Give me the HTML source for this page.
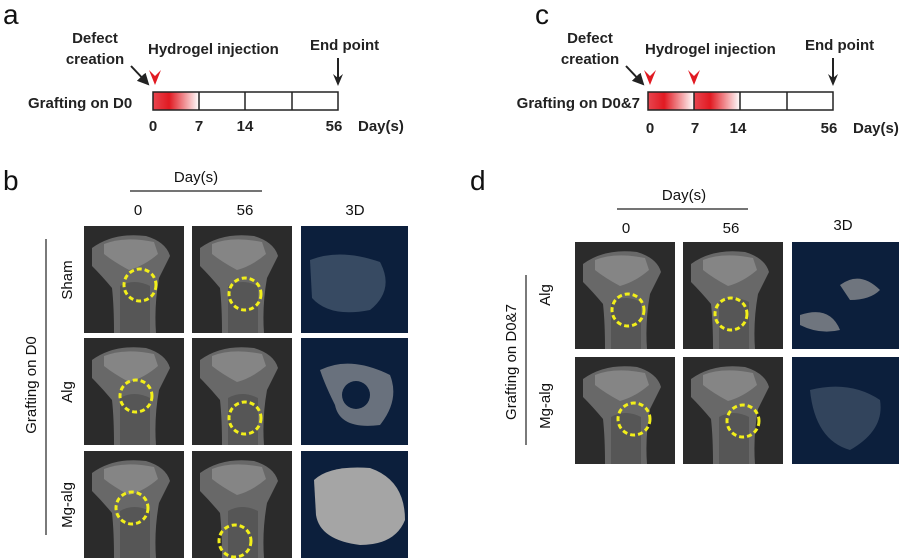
<!DOCTYPE html>
<html><head><meta charset="utf-8"><style>
html,body{margin:0;padding:0;background:#fff;}
svg{display:block;font-family:"Liberation Sans",Arial,sans-serif;}
.b{font-weight:bold;font-size:15px;fill:#222;}
.n{font-size:15px;fill:#111;}
</style></head><body>
<svg width="900" height="559" viewBox="0 0 900 559" xmlns="http://www.w3.org/2000/svg">
<defs>
<linearGradient id="rg" x1="0" x2="1" y1="0" y2="0">
<stop offset="0" stop-color="#e8454f"/><stop offset="0.35" stop-color="#e11a22"/><stop offset="1" stop-color="#fff"/>
</linearGradient>
<marker id="ah" markerWidth="6" markerHeight="6" refX="5" refY="3" orient="auto"><path d="M0,0 L6,3 L0,6 z" fill="#222"/></marker>
<g id="bone">
<rect width="100" height="107" fill="#2b2b2b"/>
<path d="M8,22 Q30,6 62,10 Q82,16 86,30 L75,52 Q70,80 72,107 L30,107 Q30,80 28,62 Q18,50 8,40 z" fill="#686868"/>
<path d="M20,18 Q40,10 70,16 L74,28 Q60,40 45,44 Q30,36 20,28 z" fill="#858585"/>
<path d="M36,60 Q50,52 66,60 L66,107 L36,107 z" fill="#565656"/>
</g>
<g id="d3"><rect width="107" height="107" fill="#0c1f3c"/></g>
</defs>

<!-- panel a -->
<text x="3" y="24" font-size="28" fill="#111">a</text>
<g>
<text class="b" x="95" y="43" text-anchor="middle">Defect</text>
<text class="b" x="95" y="64" text-anchor="middle">creation</text>
<text class="b" x="148" y="54">Hydrogel injection</text>
<text class="b" x="310" y="50">End point</text>
<line x1="131" y1="66" x2="148" y2="84" stroke="#222" stroke-width="2" marker-end="url(#ah)"/>
<path d="M149,70 L155,85 L161,70 L155,76z" fill="#e11a22"/>
<line x1="338" y1="58" x2="338" y2="80" stroke="#222" stroke-width="2"/>
<path d="M333,74 L338,86 L343,74 L338,78z" fill="#222"/>
<text class="b" x="28" y="108">Grafting on D0</text>
<rect x="153" y="92" width="46" height="18" fill="url(#rg)"/>
<rect x="153" y="92" width="185" height="18" fill="none" stroke="#222" stroke-width="1.5"/>
<line x1="199" y1="92" x2="199" y2="110" stroke="#222" stroke-width="1.5"/>
<line x1="245" y1="92" x2="245" y2="110" stroke="#222" stroke-width="1.5"/>
<line x1="292" y1="92" x2="292" y2="110" stroke="#222" stroke-width="1.5"/>
<text class="b" x="153" y="131" text-anchor="middle">0</text>
<text class="b" x="199" y="131" text-anchor="middle">7</text>
<text class="b" x="245" y="131" text-anchor="middle">14</text>
<text class="b" x="334" y="131" text-anchor="middle">56</text>
<text class="b" x="358" y="131">Day(s)</text>
</g>

<!-- panel c -->
<text x="535" y="24" font-size="28" fill="#111">c</text>
<g transform="translate(495,0)">
<text class="b" x="95" y="43" text-anchor="middle">Defect</text>
<text class="b" x="95" y="64" text-anchor="middle">creation</text>
<text class="b" x="150" y="54">Hydrogel injection</text>
<text class="b" x="310" y="50">End point</text>
<line x1="131" y1="66" x2="148" y2="84" stroke="#222" stroke-width="2" marker-end="url(#ah)"/>
<path d="M149,70 L155,85 L161,70 L155,76z" fill="#e11a22"/>
<path d="M193,70 L199,85 L205,70 L199,76z" fill="#e11a22"/>
<line x1="338" y1="58" x2="338" y2="80" stroke="#222" stroke-width="2"/>
<path d="M333,74 L338,86 L343,74 L338,78z" fill="#222"/>
<text class="b" x="145" y="108" text-anchor="end">Grafting on D0&amp;7</text>
<rect x="153" y="92" width="46" height="18" fill="url(#rg)"/>
<rect x="199" y="92" width="46" height="18" fill="url(#rg)"/>
<rect x="153" y="92" width="185" height="18" fill="none" stroke="#222" stroke-width="1.5"/>
<line x1="199" y1="92" x2="199" y2="110" stroke="#222" stroke-width="1.5"/>
<line x1="245" y1="92" x2="245" y2="110" stroke="#222" stroke-width="1.5"/>
<line x1="292" y1="92" x2="292" y2="110" stroke="#222" stroke-width="1.5"/>
<text class="b" x="155" y="133" text-anchor="middle">0</text>
<text class="b" x="200" y="133" text-anchor="middle">7</text>
<text class="b" x="243" y="133" text-anchor="middle">14</text>
<text class="b" x="334" y="133" text-anchor="middle">56</text>
<text class="b" x="358" y="133">Day(s)</text>
</g>

<!-- panel b -->
<text x="3" y="190" font-size="28" fill="#111">b</text>
<text class="n" x="196" y="182" text-anchor="middle">Day(s)</text>
<line x1="130" y1="191" x2="262" y2="191" stroke="#222" stroke-width="1.2"/>
<text class="n" x="138" y="215" text-anchor="middle">0</text>
<text class="n" x="245" y="215" text-anchor="middle">56</text>
<text class="n" x="355" y="215" text-anchor="middle">3D</text>
<line x1="46" y1="239" x2="46" y2="535" stroke="#222" stroke-width="1.2"/>
<text class="n" transform="translate(36,385) rotate(-90)" text-anchor="middle">Grafting on D0</text>
<text class="n" transform="translate(72,280) rotate(-90)" text-anchor="middle">Sham</text>
<text class="n" transform="translate(72,392) rotate(-90)" text-anchor="middle">Alg</text>
<text class="n" transform="translate(72,505) rotate(-90)" text-anchor="middle">Mg-alg</text>
<use href="#bone" x="84" y="226"/><use href="#bone" x="192" y="226"/><use href="#d3" x="301" y="226"/>
<use href="#bone" x="84" y="338"/><use href="#bone" x="192" y="338"/><use href="#d3" x="301" y="338"/>
<use href="#bone" x="84" y="451"/><use href="#bone" x="192" y="451"/><use href="#d3" x="301" y="451"/>
<path d="M310,260 Q340,248 380,262 Q395,290 370,310 Q330,318 312,298z" fill="#8a9aaa" opacity="0.35"/>
<path d="M320,370 Q350,355 390,375 Q400,400 380,425 Q340,430 335,405 Q325,385 320,370z" fill="#a8a8a8" opacity="0.6"/>
<circle cx="356" cy="395" r="14" fill="#0c1f3c"/>
<path d="M314,480 Q330,465 370,468 Q405,480 405,520 Q395,545 360,545 Q320,540 316,515z" fill="#a5a5a5"/>
<g fill="none" stroke="#f2ef1a" stroke-width="3" stroke-dasharray="5,3">
<circle cx="140" cy="285" r="16"/><circle cx="245" cy="294" r="16"/>
<circle cx="136" cy="396" r="16"/><circle cx="245" cy="418" r="16"/>
<circle cx="132" cy="508" r="16"/><circle cx="235" cy="541" r="16"/>
</g>

<!-- panel d -->
<text x="470" y="190" font-size="28" fill="#111">d</text>
<text class="n" x="684" y="200" text-anchor="middle">Day(s)</text>
<line x1="617" y1="209" x2="748" y2="209" stroke="#222" stroke-width="1.2"/>
<text class="n" x="626" y="233" text-anchor="middle">0</text>
<text class="n" x="731" y="233" text-anchor="middle">56</text>
<text class="n" x="843" y="230" text-anchor="middle">3D</text>
<line x1="526" y1="275" x2="526" y2="445" stroke="#222" stroke-width="1.2"/>
<text class="n" transform="translate(516,362) rotate(-90)" text-anchor="middle">Grafting on D0&amp;7</text>
<text class="n" transform="translate(550,295) rotate(-90)" text-anchor="middle">Alg</text>
<text class="n" transform="translate(550,406) rotate(-90)" text-anchor="middle">Mg-alg</text>
<use href="#bone" x="575" y="242"/><use href="#bone" x="683" y="242"/><use href="#d3" x="792" y="242"/>
<use href="#bone" x="575" y="357"/><use href="#bone" x="683" y="357"/><use href="#d3" x="792" y="357"/>
<path d="M800,315 Q830,305 840,330 Q820,335 800,325z M840,285 Q860,270 880,290 Q870,300 850,300z" fill="#9a9a9a" opacity="0.7"/>
<path d="M810,390 Q850,380 880,400 Q885,430 850,450 Q815,440 810,390z" fill="#8a9aaa" opacity="0.3"/>
<g fill="none" stroke="#f2ef1a" stroke-width="3" stroke-dasharray="5,3">
<circle cx="628" cy="310" r="16"/><circle cx="731" cy="314" r="16"/>
<circle cx="634" cy="419" r="16"/><circle cx="743" cy="421" r="16"/>
</g>
</svg>
</body></html>
